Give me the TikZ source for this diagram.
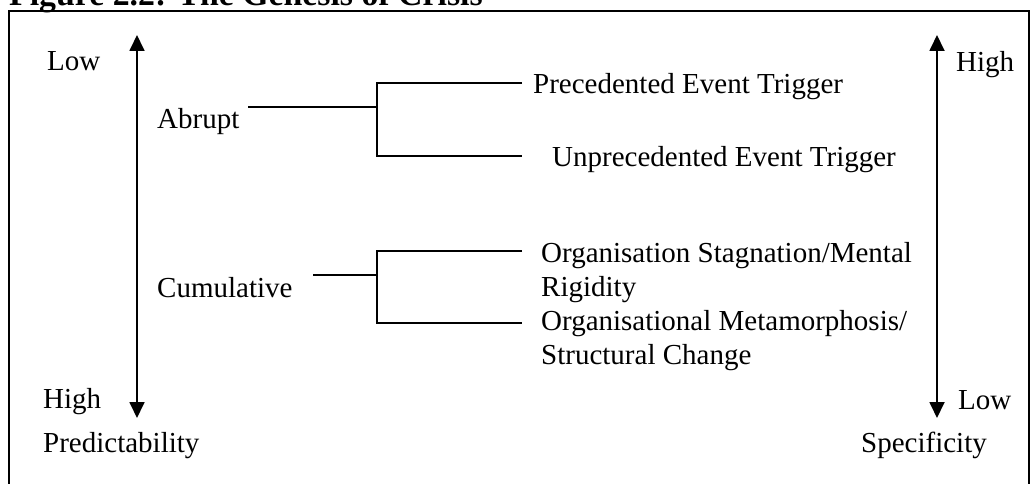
\documentclass[tikz,border=0pt]{standalone}
\usepackage{fontspec}
\setmainfont{Liberation Serif}
\usetikzlibrary{arrows.meta}
\begin{document}
\begin{tikzpicture}[x=1pt,y=1pt,
  lbl/.style={anchor=base west,inner sep=0pt,font=\fontsize{29}{34}\selectfont},
  ttl/.style={anchor=base west,inner sep=0pt,font=\fontsize{33.8}{40}\selectfont\bfseries},
  axisline/.style={line width=1.8pt,
    {Triangle[width=15pt,length=16pt]}-{Triangle[width=15pt,length=16pt]}},
  branch/.style={line width=1.8pt},
  frameline/.style={line width=2pt}]
\useasboundingbox (0,0) rectangle (1034,-484);

% heading and surrounding frame
\node[ttl] (title) at (9,-6) {Figure 2.2: The Genesis of Crisis};
\draw[frameline] (9,-492) -- (9,-11) -- (1029,-11) -- (1029,-492);

% predictability axis (left)
\coordinate (predTop) at (137,-35);
\coordinate (predBot) at (137,-418);
\draw[axisline] (predBot) -- (predTop);
\node[lbl] (lowL) at (47,-71) {Low};
\node[lbl] (highL) at (43,-408) {High};
\node[lbl] (pred) at (43,-452) {Predictability};

% specificity axis (right)
\coordinate (specTop) at (937,-35);
\coordinate (specBot) at (937,-418);
\draw[axisline] (specBot) -- (specTop);
\node[lbl] (highR) at (956,-72) {High};
\node[lbl] (lowR) at (958,-409) {Low};
\node[lbl] (spec) at (861,-452) {Specificity};

% abrupt crises
\node[lbl] (abrupt) at (157,-129) {Abrupt};
\coordinate (abS) at (248,-107);
\coordinate (abJ) at (377,-107);
\coordinate (pJ) at (377,-83);
\coordinate (pE) at (522,-83);
\coordinate (uJ) at (377,-156);
\coordinate (uE) at (522,-156);
\draw[branch] (abS) -- (abJ);
\draw[branch] (pE) -- (pJ) -- (uJ) -- (uE);
\node[lbl] (prec) at (533,-94) {Precedented Event Trigger};
\node[lbl] (unprec) at (552,-167) {Unprecedented Event Trigger};

% cumulative crises
\node[lbl] (cumul) at (157,-297) {Cumulative};
\coordinate (cuS) at (313,-275);
\coordinate (cuJ) at (377,-275);
\coordinate (oJ) at (377,-251);
\coordinate (oE) at (522,-251);
\coordinate (mJ) at (377,-323);
\coordinate (mE) at (522,-323);
\draw[branch] (cuS) -- (cuJ);
\draw[branch] (oE) -- (oJ) -- (mJ) -- (mE);
\node[lbl] (stagA) at (541,-262) {Organisation Stagnation/Mental};
\node[lbl] (stagB) at (541,-296) {Rigidity};
\node[lbl] (metaA) at (541,-330) {Organisational Metamorphosis/};
\node[lbl] (metaB) at (541,-364) {Structural Change};
\end{tikzpicture}
\end{document}
